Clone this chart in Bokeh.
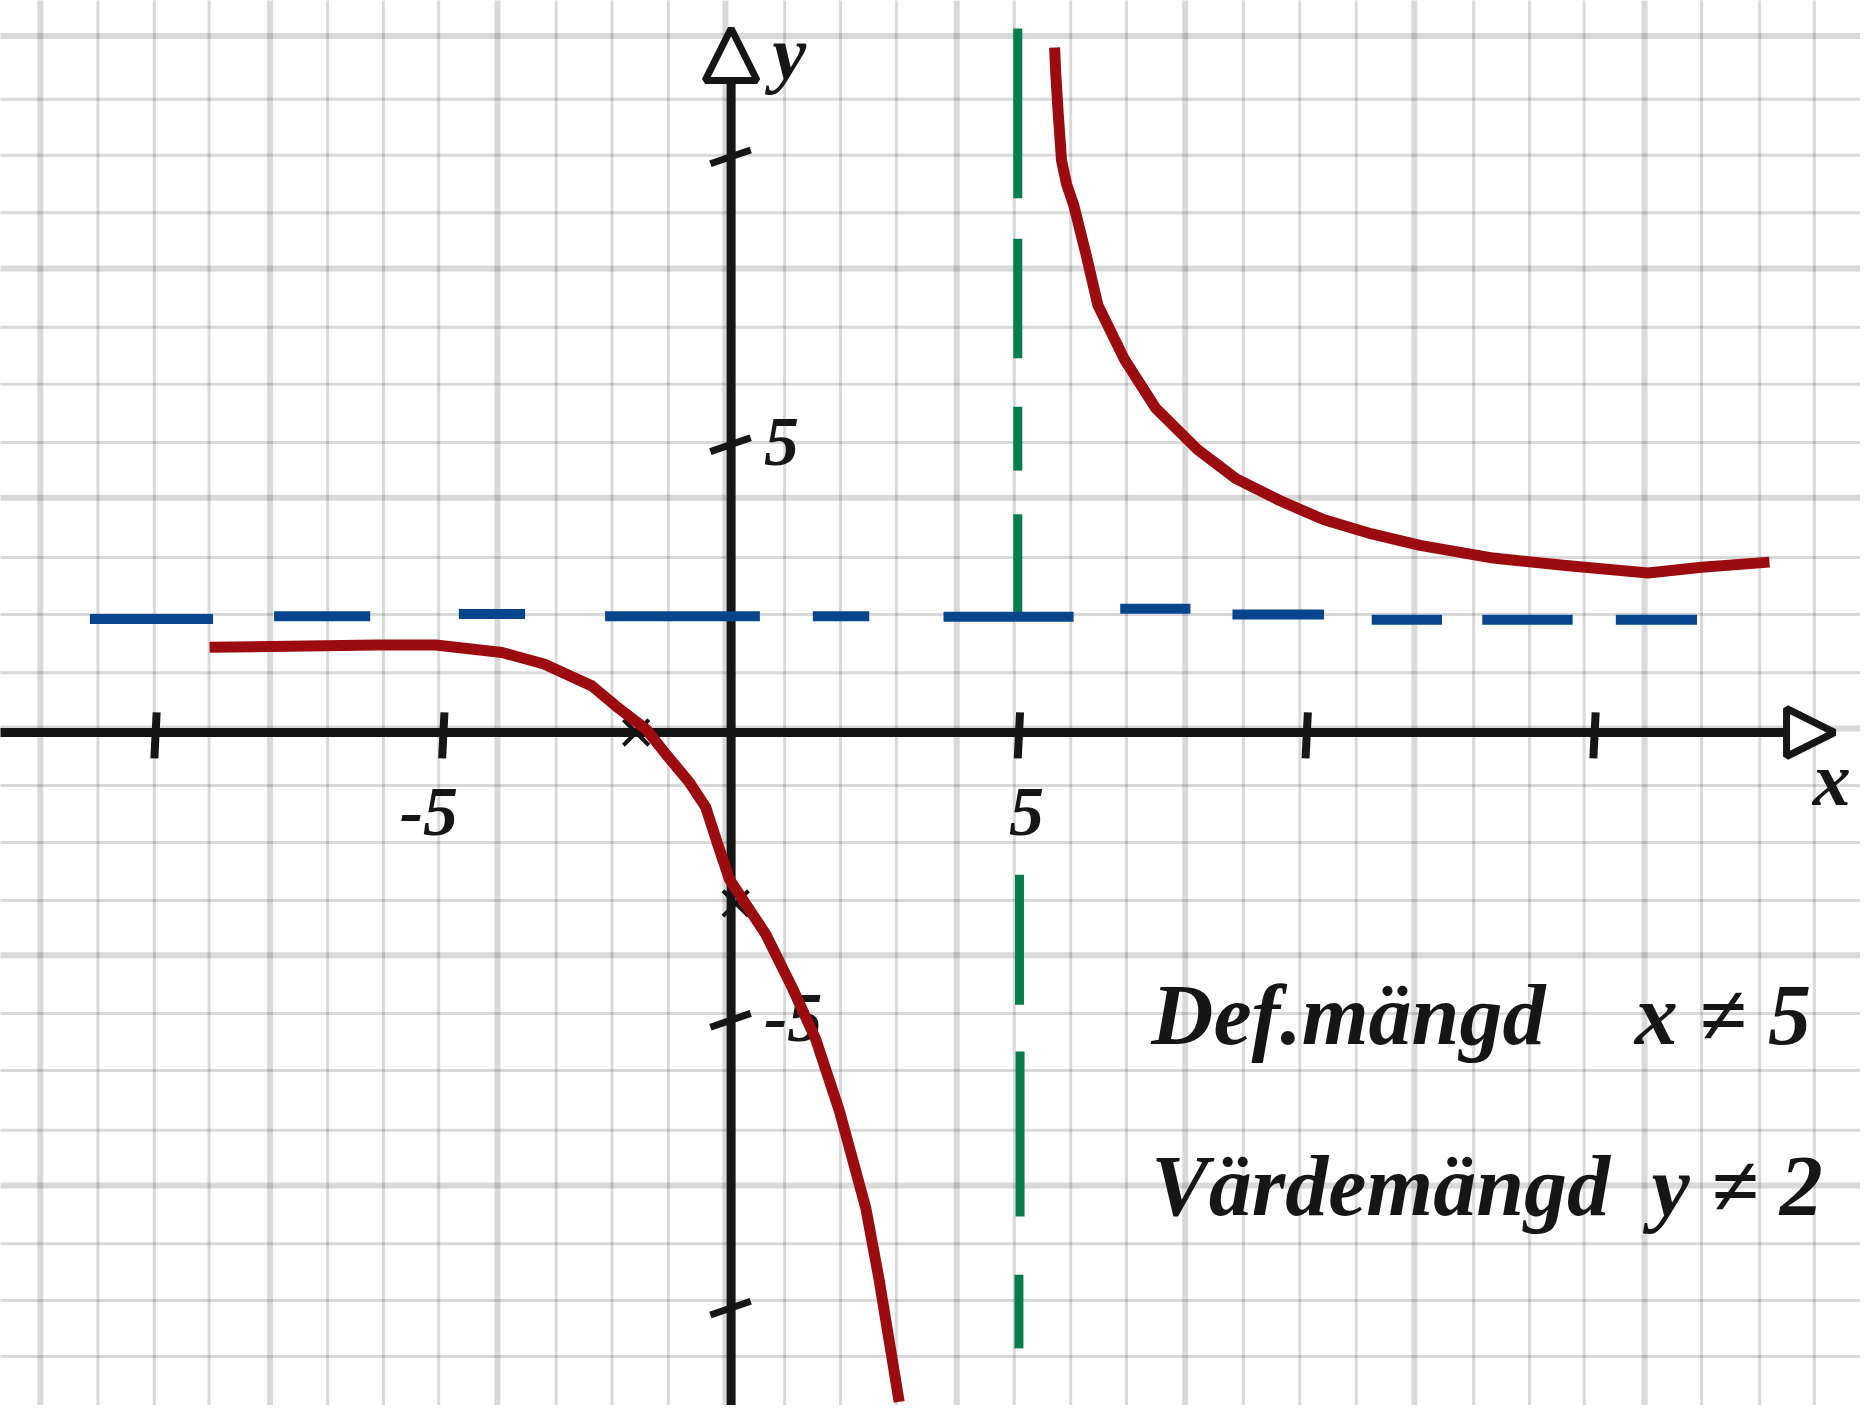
from bokeh.plotting import figure
from bokeh.models import Arrow, NormalHead
from bokeh.core.properties import value
from bokeh.embed import file_html
from bokeh.resources import INLINE

# ---------------- data ----------------
# red curve, branch left of the vertical asymptote
left_x = [-9.06, -6.17, -5.13, -3.98, -3.25, -2.42, -2.0, -1.48, -1.13, -0.73,
          -0.44, -0.24, -0.03, 0.30, 0.60, 1.07, 1.47, 1.88, 2.34, 2.57, 2.92]
left_y = [1.48, 1.52, 1.52, 1.39, 1.19, 0.81, 0.46, 0.06, -0.38, -0.86,
          -1.30, -1.92, -2.55, -3.05, -3.50, -4.45, -5.33, -6.57, -8.26, -9.50, -11.63]
# red curve, branch right of the vertical asymptote
right_x = [5.62, 5.64, 5.68, 5.74, 5.83, 5.95, 6.16, 6.37, 6.84, 7.38, 8.10, 8.77, 9.53,
           10.29, 11.13, 11.97, 13.24, 14.50, 15.93, 16.86, 18.04]
right_y = [11.90, 11.45, 10.80, 9.94, 9.52, 9.17, 8.33, 7.43, 6.47, 5.63, 4.92, 4.41, 4.03,
           3.70, 3.45, 3.25, 3.03, 2.90, 2.77, 2.87, 2.96]

# horizontal asymptote y = 2 (hand-drawn dashes)
hdash_x0 = [-11.14, -7.94, -4.73, -2.19, 1.42, 3.69, 6.76, 8.71, 11.13, 13.05, 15.37]
hdash_x1 = [-9.00, -6.27, -3.58, 0.50, 2.40, 5.95, 7.98, 10.30, 12.35, 14.62, 16.78]
hdash_y = [1.97, 2.02, 2.06, 2.02, 2.02, 2.01, 2.15, 2.05, 1.96, 1.96, 1.96]

# vertical asymptote x = 5 (hand-drawn dashes)
vdash_x = [4.98, 4.98, 4.98, 4.98, 5.01, 5.02, 5.0]
vdash_y0 = [12.23, 8.58, 5.66, 3.79, -2.47, -5.54, -9.42]
vdash_y1 = [9.28, 6.50, 4.55, 2.05, -4.73, -8.41, -10.70]

# intercept marks
icept_x = [-1.65, 0.08]
icept_y = [0.0, -2.97]

# axis ticks and labels
x_ticks = [-10, -5, 5, 10, 15]
y_ticks = [10, 5, -5, -10]
x_tick_labels = ["-5", "5"]
x_label_vals = [-5, 5]
y_tick_labels = ["5", "-5"]
y_label_vals = [5, -5]

# grid paper lines (measured positions)
grid_x_minor = [-11.0, -10.02, -9.07, -7.01, -6.04, -5.08, -3.04, -2.07, -1.09,
                0.93, 1.9, 2.87, 4.92, 5.9, 6.87, 8.9, 9.88, 10.86, 12.9, 13.87,
                14.82, 16.86, 17.87, 18.82]
grid_x_major = [-12.0, -8.01, -4.06, -0.1, 3.92, 7.89, 11.87, 15.87, 19.8]
grid_y_minor = [11.0, 10.03, 9.03, 7.04, 6.05, 5.04, 3.04, 2.05, 1.04, -0.92,
                -1.91, -2.92, -4.88, -5.87, -6.91, -8.88, -9.87, -10.84]
grid_y_major = [12.1, 8.06, 4.08, 0.07, -3.87, -7.87, -11.83]

text_lines = ["Def.mängd", "Värdemängd"]
text_rel = ["x ≠ 5", "y ≠ 2"]
text_y = [-4.90, -7.87]

# ---------------- styles ----------------
BLACK = "#161616"
RED = "#9c0b10"
BLUE = "#08458c"
GREEN = "#077d4e"
FONT = value("Liberation Serif")

X0, X1 = -12.693, 19.621
Y0, Y1 = -11.692, 12.717

p = figure(width=1860, height=1405, x_range=(X0, X1), y_range=(Y0, Y1),
           x_axis_type=None, y_axis_type=None, toolbar_location=None,
           output_backend="svg", min_border=0, outline_line_color=None,
           background_fill_color="white", border_fill_color="white")

# grid paper
for gx, w in ((grid_x_minor, 3), (grid_x_major, 6)):
    p.segment(x0=gx, y0=[-14] * len(gx), x1=gx, y1=[14] * len(gx),
              line_color="black", line_alpha=0.15, line_width=w, level="image")
for gy, w in ((grid_y_minor, 3), (grid_y_major, 6)):
    p.segment(x0=[-14] * len(gy), y0=gy, x1=[21] * len(gy), y1=gy,
              line_color="black", line_alpha=0.15, line_width=w, level="image")

# axes with arrow heads
p.add_layout(Arrow(end=NormalHead(size=48, fill_color="white", line_color=BLACK, line_width=7),
                   x_start=-12.8, y_start=0, x_end=19.17, y_end=0,
                   line_color=BLACK, line_width=9, level="underlay"))
p.add_layout(Arrow(end=NormalHead(size=52, fill_color="white", line_color=BLACK, line_width=7),
                   x_start=0, y_start=-12.5, x_end=0, y_end=12.23,
                   line_color=BLACK, line_width=9, level="underlay"))

# tick marks
p.segment(x0=[t + 0.02 for t in x_ticks], y0=[0.35] * len(x_ticks),
          x1=[t - 0.02 for t in x_ticks], y1=[-0.45] * len(x_ticks),
          line_color=BLACK, line_width=8)
p.segment(x0=[-0.36] * len(y_ticks), y0=[t - 0.12 for t in y_ticks],
          x1=[0.34] * len(y_ticks), y1=[t + 0.12 for t in y_ticks],
          line_color=BLACK, line_width=7)

# tick labels
p.text(x=[v + 0.13 - (0.38 if v < 0 else 0) for v in x_label_vals],
       y=[-1.38] * len(x_label_vals), text=x_tick_labels,
       text_font=FONT, text_font_style="bold italic", text_font_size="70px",
       text_color=BLACK, text_align="center", text_baseline="middle")
p.text(x=[0.57] * len(y_label_vals), y=[v + 0.04 for v in y_label_vals],
       text=y_tick_labels, text_font=FONT, text_font_style="bold italic",
       text_font_size="70px", text_color=BLACK, text_align="left",
       text_baseline="middle")

# axis names
p.text(x=[19.12], y=[-0.80], text=["x"], text_font=FONT, text_font_style="bold italic",
       text_font_size="76px", text_color=BLACK, text_align="center", text_baseline="middle")
p.text(x=[1.01], y=[11.80], text=["y"], text_font=FONT, text_font_style="bold italic",
       text_font_size="76px", text_color=BLACK, text_align="center", text_baseline="middle")

# asymptotes
p.segment(x0=vdash_x, y0=vdash_y0, x1=vdash_x, y1=vdash_y1,
          line_color=GREEN, line_width=9, line_cap="butt")
p.segment(x0=hdash_x0, y0=hdash_y, x1=hdash_x1, y1=hdash_y,
          line_color=BLUE, line_width=10, line_cap="butt")

# intercept crosses
p.scatter(x=icept_x, y=icept_y, marker="x", size=36, line_color=BLACK, line_width=4)

# the function
p.line(left_x, left_y, line_color=RED, line_width=11, line_join="round")
p.line(right_x, right_y, line_color=RED, line_width=11, line_join="round")

# notes
p.text(x=[7.30] * 2, y=text_y, text=text_lines, text_font=FONT,
       text_font_style="bold italic", text_font_size="86px", text_color=BLACK,
       text_align="left", text_baseline="alphabetic")
p.text(x=[15.70, 15.99], y=text_y, text=text_rel, text_font=FONT,
       text_font_style="bold italic", text_font_size="86px", text_color=BLACK,
       text_align="left", text_baseline="alphabetic")

open("out.html", "w").write(file_html(p, INLINE))
